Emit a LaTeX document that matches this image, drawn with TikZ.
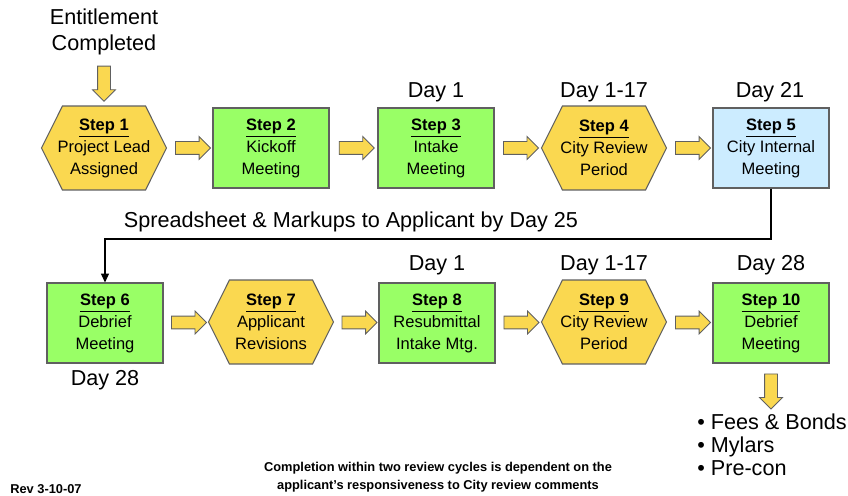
\documentclass[tikz,border=0pt]{standalone}
\usepackage{fontspec}
\setmainfont{Liberation Sans}
\usetikzlibrary{shapes.symbols,shapes.arrows,arrows.meta,calc}

\definecolor{stepyellow}{RGB}{250,216,80}
\definecolor{stepgreen}{RGB}{153,255,102}
\definecolor{stepblue}{RGB}{204,236,255}
\definecolor{edgegray}{RGB}{96,96,96}

\newcommand{\stephead}[1]{\underline{\textbf{#1}}}

\begin{document}
\begin{tikzpicture}[x=0.02cm,y=-0.02cm,
  every node/.style={inner sep=0pt},
  stepbox/.style={draw=edgegray,line width=0.6pt,fill=stepgreen,minimum width=2.32cm,minimum height=1.6cm,align=center,font=\fontsize{9.4}{12.5}\selectfont},
  stephex/.style={stepbox,fill=stepyellow,shape=signal,signal to=east and west,signal pointer angle=127,inner xsep=-5pt,minimum width=2.5cm,minimum height=1.68cm},
  flowarrow/.style={draw=edgegray,line width=0.5pt,fill=stepyellow,single arrow,single arrow head extend=0.1cm,inner sep=0.12cm,minimum height=0.7cm},
  daylabel/.style={font=\fontsize{12.3}{14.8}\selectfont,align=center},
  conn/.style={-{Triangle[length=5pt,width=4.5pt]},line width=0.6pt}]
\useasboundingbox (0,0) rectangle (848,496);
\node[stephex] (s1) at (104,148) {\stephead{Step 1}\\Project Lead\\Assigned};
\node[stepbox] (s2) at (271,148) {\stephead{Step 2}\\Kickoff\\Meeting};
\node[stepbox] (s3) at (436,148) {\stephead{Step 3}\\Intake\\Meeting};
\node[stephex] (s4) at (604,148) {\stephead{Step 4}\\City Review\\Period};
\node[stepbox,fill=stepblue] (s5) at (771,148) {\stephead{Step 5}\\City Internal\\Meeting};
\node[stepbox] (s6) at (105,323) {\stephead{Step 6}\\Debrief\\Meeting};
\node[stephex] (s7) at (271,322) {\stephead{Step 7}\\Applicant\\Revisions};
\node[stepbox] (s8) at (437,323) {\stephead{Step 8}\\Resubmittal\\Intake Mtg.};
\node[stephex] (s9) at (604,322) {\stephead{Step 9}\\City Review\\Period};
\node[stepbox] (s10) at (771,323) {\stephead{Step 10}\\Debrief\\Meeting};
\node[flowarrow] (a12) at ($(s1.east)!0.5!(s2.west)$) {};
\node[flowarrow] (a23) at ($(s2.east)!0.5!(s3.west)$) {};
\node[flowarrow] (a34) at ($(s3.east)!0.5!(s4.west)$) {};
\node[flowarrow] (a45) at ($(s4.east)!0.5!(s5.west)$) {};
\node[flowarrow] (a67) at ($(s6.east)!0.5!(s7.west)$) {};
\node[flowarrow] (a78) at ($(s7.east)!0.5!(s8.west)$) {};
\node[flowarrow] (a89) at ($(s8.east)!0.5!(s9.west)$) {};
\node[flowarrow] (a910) at ($(s9.east)!0.5!(s10.west)$) {};
\node[daylabel] (ent) at (104,32) {Entitlement\\Completed};
\node[flowarrow,shape border rotate=270] (a01) at ($(ent.south)!0.5!(s1.north)$) {};
\node[daylabel] (d3) at (436,92) {Day 1};
\node[daylabel] (d4) at (604,92) {Day 1-17};
\node[daylabel] (d5) at (770,92) {Day 21};
\node[daylabel] (d6) at (105,380) {Day 28};
\node[daylabel] (d8) at (437,265) {Day 1};
\node[daylabel] (d9) at (604,265) {Day 1-17};
\node[daylabel] (d10) at (771,265) {Day 28};
\coordinate (bend) at (105,239);
\draw[conn] (s5.south) |- (bend) -- (s6.north);
\node[daylabel] (sheet) at (351,222) {Spreadsheet \& Markups to Applicant by Day 25};
\node[daylabel,align=left,anchor=north west,font=\fontsize{12.3}{13.1}\selectfont] (outs) at (697,413) {\textbullet\ Fees \& Bonds\\\textbullet\ Mylars\\\textbullet\ Pre-con};
\node[flowarrow,shape border rotate=270] (a10) at ($(s10.south)!0.5!(s10.south |- outs.north)$) {};
\node[font=\fontsize{7.3}{10}\selectfont\bfseries,align=center] (note) at (438,477) {Completion within two review cycles is dependent on the\\applicant’s responsiveness to City review comments};
\node[font=\fontsize{7.3}{10}\selectfont\bfseries,anchor=west] (rev) at (10,489) {Rev 3-10-07};
\end{tikzpicture}
\end{document}
